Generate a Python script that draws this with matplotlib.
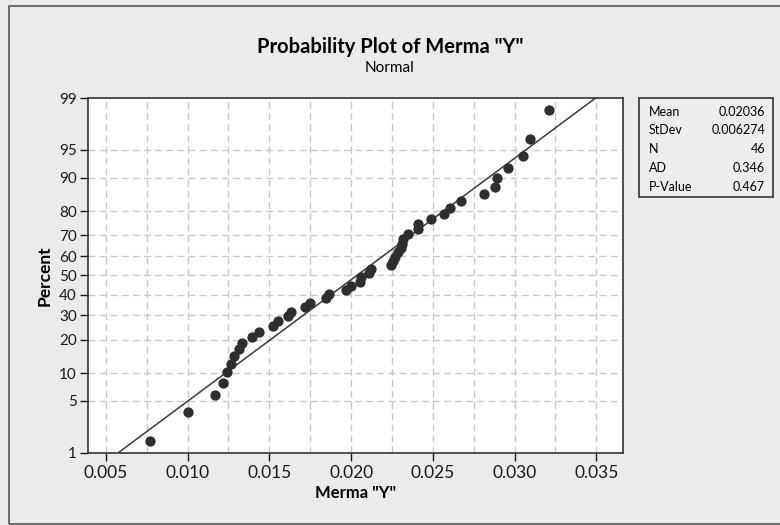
import numpy as np
import matplotlib
matplotlib.use("Agg")
import matplotlib.pyplot as plt
from matplotlib.patches import Rectangle
from statistics import NormalDist

plt.rcParams['font.family'] = ['Lato', 'DejaVu Sans']

# datos de merma (ordenados)
merma = [0.0077, 0.0100, 0.01166, 0.01217, 0.01241, 0.01266, 0.01286, 0.01313,
         0.01334, 0.01395, 0.01436, 0.01524, 0.01552, 0.01613, 0.01634, 0.01716,
         0.01748, 0.01845, 0.01865, 0.0197, 0.0200, 0.02053, 0.02063, 0.02110,
         0.02119, 0.02242, 0.02258, 0.02268, 0.02289, 0.02303, 0.0231, 0.02316,
         0.0235, 0.02408, 0.02408, 0.02490, 0.02566, 0.02607, 0.0267, 0.02812,
         0.0288, 0.02891, 0.02962, 0.03054, 0.03095, 0.03209]

# estadisticos mostrados en la tabla
mean = 0.02036
stdev = 0.006274
stat_names = ["Mean", "StDev", "N", "AD", "P-Value"]
stat_values = ["0.02036", "0.006274", "46", "0.346", "0.467"]

pct_ticks = [1, 5, 10, 20, 30, 40, 50, 60, 70, 80, 90, 95, 99]
x_ticks = [0.005, 0.010, 0.015, 0.020, 0.025, 0.030, 0.035]

nd = NormalDist()
ppf = lambda p: np.array([nd.inv_cdf(v) for v in np.atleast_1d(p)])

n = len(merma)
ranks = np.arange(1, n + 1)
pos = (ranks - 0.3) / (n + 0.4)   # rangos medianos (Minitab)
z = ppf(pos)

fig = plt.figure(figsize=(7.8, 5.25), dpi=100)
fig.patch.set_facecolor('#ebebeb')
fig.patches.append(Rectangle((9 / 780, 0.002), 1.2, 1 - 6 / 525 - 0.002, transform=fig.transFigure,
                             fill=False, edgecolor='#555555', lw=1.2))

ax = fig.add_axes([88 / 780, 1 - 452.7 / 525, (622.7 - 88) / 780, (452.7 - 98) / 525])
ax.set_facecolor('white')

zlim = ppf([0.01, 0.99])
ax.set_ylim(zlim[0], zlim[1])
ax.set_xlim(0.00391, 0.03661)

# rejilla
for gx in np.arange(0.005, 0.0351, 0.0025):
    ax.axvline(gx, color='#c8c8c8', lw=1, ls=(0, (5, 3)), zorder=0)
for gz in ppf([p / 100 for p in pct_ticks[1:-1]]):
    ax.axhline(gz, color='#c8c8c8', lw=1, ls=(0, (5, 3)), zorder=0)

# linea ajustada
zl = np.array([zlim[0], zlim[1]])
ax.plot(mean + stdev * zl, zl, color='#3a3a3a', lw=1.1, zorder=2)

ax.scatter(merma, z, s=55, color='#2e2e2e', zorder=3, linewidths=0)

ax.set_yticks(ppf([p / 100 for p in pct_ticks]))
ax.set_yticklabels([str(p) for p in pct_ticks])
ax.set_xticks(x_ticks)
ax.set_xticklabels(["%.3f" % v for v in x_ticks])
ax.tick_params(direction='out', length=6, width=1, labelsize=11, colors='#1a1a1a', pad=2)
ax.tick_params(axis='x', labelsize=12.5, pad=3)
for s in ax.spines.values():
    s.set_color('#333333')
    s.set_linewidth(1.2)

ax.set_xlabel('Merma "Y"', fontsize=12, fontweight='bold', labelpad=3)
ax.set_ylabel('Percent', fontsize=12.5, fontweight='bold', labelpad=5)

fig.text(0.5, 1 - 47 / 525, 'Probability Plot of Merma "Y"', ha='center', va='center',
         fontsize=14.5, fontweight='bold')
fig.text(0.5, 1 - 68 / 525, 'Normal', ha='center', va='center', fontsize=11)

# tabla de estadisticos
fig.patches.append(Rectangle((639 / 780, 1 - 197 / 525), (773 - 639) / 780, (197 - 98) / 525,
                             transform=fig.transFigure, facecolor='#ededed',
                             edgecolor='#333333', lw=1.2))
for i, (nm, val) in enumerate(zip(stat_names, stat_values)):
    yy = 1 - (111.5 + i * 18.8) / 525
    fig.text(649 / 780, yy, nm, ha='left', va='center', fontsize=9)
    fig.text(765 / 780, yy, val, ha='right', va='center', fontsize=9)

fig.savefig("out.png", dpi=100, facecolor=fig.get_facecolor())
